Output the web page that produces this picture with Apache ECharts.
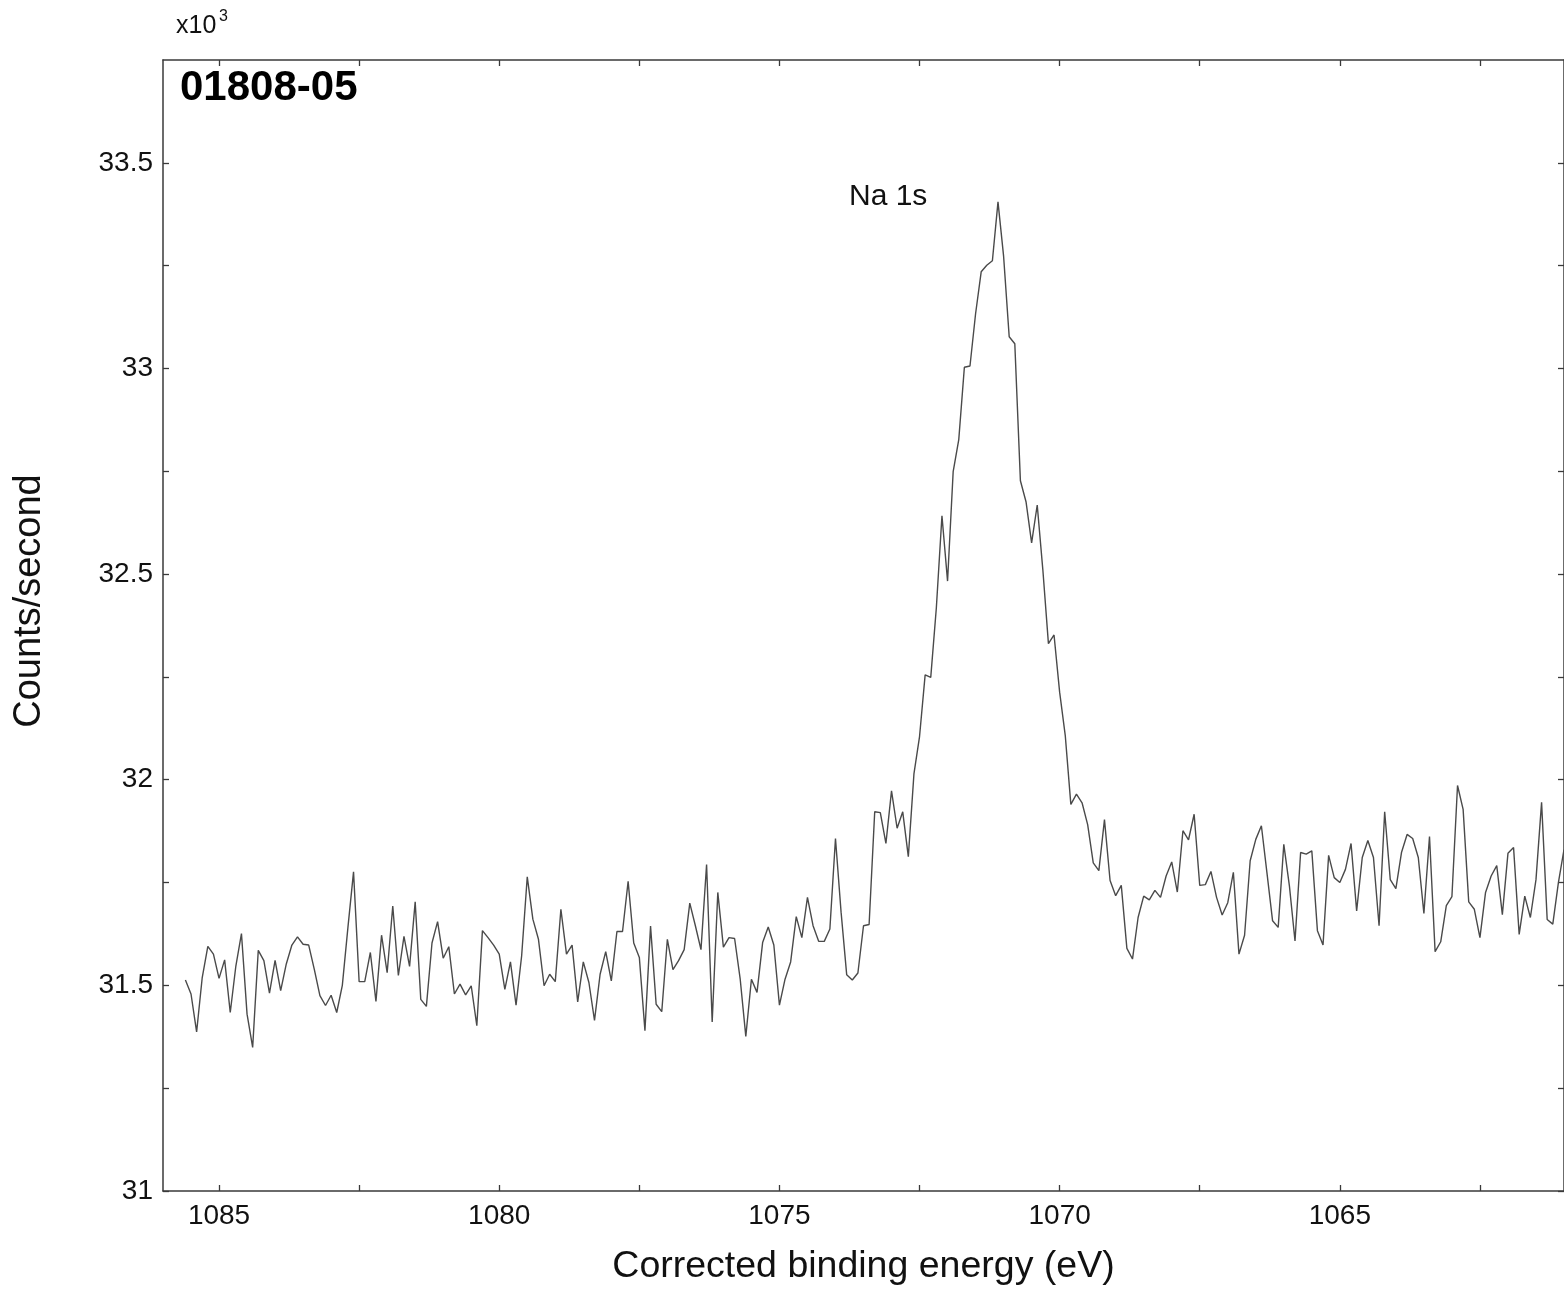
<!DOCTYPE html>
<html>
<head>
<meta charset="utf-8">
<script src="https://cdn.jsdelivr.net/npm/echarts@6/dist/echarts.min.js"></script>
<style>
html,body{margin:0;padding:0;background:#fff;}
#chart{width:1564px;height:1291px;}
</style>
</head>
<body>
<div id="chart"></div>
<script>
// Binding energy grid of the scan (eV): first point and step
const startEnergy = 1085.6;
const energyStep = -0.1;

// Counts/second (x10^3), one per 0.1 eV step
const counts = [
31.513,31.479,31.387,31.519,31.595,31.576,31.517,31.562,31.434,31.547,
31.626,31.430,31.349,31.585,31.560,31.481,31.561,31.487,31.552,31.598,
31.618,31.600,31.598,31.539,31.475,31.451,31.476,31.434,31.500,31.641,
31.776,31.509,31.509,31.580,31.461,31.622,31.531,31.693,31.524,31.619,
31.546,31.703,31.466,31.449,31.603,31.655,31.566,31.594,31.479,31.503,
31.477,31.499,31.402,31.633,31.616,31.598,31.576,31.490,31.557,31.452,
31.572,31.764,31.661,31.612,31.499,31.527,31.509,31.685,31.576,31.598,
31.460,31.557,31.507,31.415,31.527,31.582,31.511,31.631,31.631,31.753,
31.603,31.568,31.390,31.644,31.454,31.436,31.612,31.538,31.560,31.587,
31.700,31.645,31.587,31.794,31.411,31.726,31.593,31.616,31.614,31.515,
31.376,31.515,31.483,31.604,31.642,31.598,31.452,31.515,31.557,31.667,
31.616,31.714,31.645,31.607,31.607,31.637,31.857,31.678,31.526,31.513,
31.530,31.645,31.648,31.922,31.920,31.845,31.973,31.882,31.922,31.813,
32.014,32.105,32.255,32.249,32.418,32.642,32.483,32.749,32.827,33.003,
33.006,33.133,33.235,33.251,33.262,33.405,33.273,33.077,33.060,32.727,
32.676,32.576,32.668,32.511,32.331,32.352,32.213,32.108,31.940,31.965,
31.944,31.891,31.798,31.779,31.903,31.755,31.718,31.743,31.590,31.564,
31.665,31.717,31.708,31.731,31.714,31.766,31.800,31.727,31.876,31.854,
31.916,31.743,31.745,31.777,31.714,31.671,31.701,31.775,31.576,31.622,
31.803,31.855,31.888,31.773,31.657,31.641,31.843,31.742,31.608,31.823,
31.819,31.827,31.633,31.598,31.816,31.762,31.750,31.782,31.845,31.681,
31.811,31.852,31.811,31.645,31.922,31.757,31.735,31.823,31.867,31.857,
31.811,31.675,31.862,31.582,31.606,31.694,31.716,31.986,31.928,31.703,
31.685,31.616,31.726,31.766,31.791,31.672,31.821,31.835,31.624,31.717,
31.665,31.757,31.945,31.660,31.649,31.750,31.830
];

// Axis ticks and labels
const xLabelValues = [1085, 1080, 1075, 1070, 1065];
const xTickValues = [1085, 1082.5, 1080, 1077.5, 1075, 1072.5, 1070, 1067.5, 1065, 1062.5];
const yLabelValues = [31, 31.5, 32, 32.5, 33, 33.5];
const yTickValues = [31, 31.25, 31.5, 31.75, 32, 32.25, 32.5, 32.75, 33, 33.25, 33.5];

const sampleLabel = '01808-05';
const peakLabel = 'Na 1s';
const xName = 'Corrected binding energy (eV)';
const yName = 'Counts/second';

const seriesData = counts.map((v, i) => [+(startEnergy + energyStep * i).toFixed(2), v]);

const FONT = '"Liberation Sans", Arial, sans-serif';
const axisColor = '#3a3a3a';

const chart = echarts.init(document.getElementById('chart'), null, {renderer: 'canvas'});

const baseX = {
  type: 'value', inverse: true, min: 1061, max: 1086,
  axisLine: {show: true, onZero: false, lineStyle: {color: axisColor, width: 1.5}},
  axisTick: {show: true, inside: true, length: 6, customValues: xTickValues, lineStyle: {color: axisColor, width: 1.3}},
  splitLine: {show: false}
};
const baseY = {
  type: 'value', min: 31, max: 33.75, interval: 0.5,
  axisLine: {show: true, onZero: false, lineStyle: {color: axisColor, width: 1.5}},
  axisTick: {show: true, inside: true, length: 6, customValues: yTickValues, lineStyle: {color: axisColor, width: 1.3}},
  splitLine: {show: false}
};

chart.setOption({
  animation: false,
  backgroundColor: '#ffffff',
  grid: {left: 163, top: 60, right: 0, bottom: 99, containLabel: false},
  xAxis: [
    Object.assign({}, baseX, {
      position: 'bottom',
      axisLabel: {show: true, customValues: xLabelValues, fontSize: 28, margin: 11, color: '#111', fontFamily: FONT,
        formatter: v => String(v)},
      name: xName, nameLocation: 'middle', nameGap: 57,
      nameTextStyle: {fontSize: 37.5, color: '#111', fontFamily: FONT}
    }),
    Object.assign({}, baseX, {
      position: 'top',
      axisLabel: {show: false}
    })
  ],
  yAxis: [
    Object.assign({}, baseY, {
      position: 'left',
      axisLabel: {show: true, customValues: yLabelValues, fontSize: 28, margin: 10, color: '#111', fontFamily: FONT,
        formatter: v => String(v)}
    }),
    Object.assign({}, baseY, {
      position: 'right',
      axisLabel: {show: false}
    })
  ],
  series: [{
    type: 'line',
    xAxisIndex: 0, yAxisIndex: 0,
    data: seriesData,
    showSymbol: false,
    symbol: 'none',
    clip: true,
    lineStyle: {color: '#4a4a4a', width: 1.4},
    silent: true
  }],
  graphic: [
    {type: 'text', left: 176, top: 14, style: {text: 'x10', fontSize: 25, fill: '#111', fontFamily: FONT}},
    {type: 'text', left: 219, top: 9, style: {text: '3', fontSize: 16, fill: '#111', fontFamily: FONT}},
    {type: 'text', x: 180, y: 88, style: {text: sampleLabel, fontSize: 42, fontWeight: 'bold', fill: '#000', fontFamily: FONT, verticalAlign: 'middle', align: 'left'}},
    {type: 'text', x: 849, y: 197, style: {text: peakLabel, fontSize: 30, fill: '#111', fontFamily: FONT, verticalAlign: 'middle', align: 'left'}},
    {type: 'text', x: 30, y: 601, rotation: Math.PI / 2, style: {text: yName, fontSize: 38, fill: '#111', fontFamily: FONT, verticalAlign: 'middle', align: 'center'}}
  ]
});
</script>
</body>
</html>
